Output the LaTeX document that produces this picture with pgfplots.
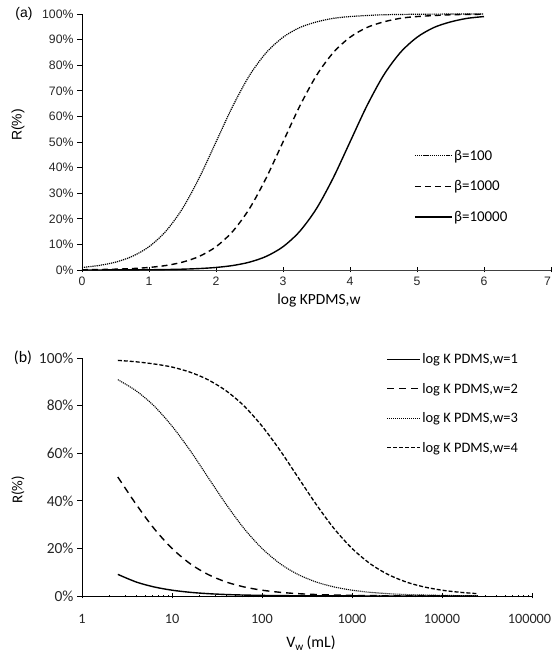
\documentclass[border=0pt]{standalone}
\usepackage{fontspec}
\setmainfont{Carlito}
\newfontfamily\arial{Liberation Sans}
\usepackage{pgfplots}
\pgfplotsset{compat=1.18}
\begin{document}
\begin{tikzpicture}
\path[use as bounding box] (0,0) rectangle (552bp,656bp);
% ---------- panel (a)
\begin{axis}[
  at={(82bp,386bp)}, anchor=south west,
  width=469bp, height=256bp, scale only axis,
  xmin=0, xmax=7, ymin=0, ymax=100,
  axis x line*=bottom, axis y line*=left,
  axis line style={-, line width=0.8pt},
  x axis line style={black!75},
  xtick={0,1,2,3,4,5,6,7},
  xticklabels={0,1,2,3,4,5,6,\llap{7}},
  ytick={0,10,20,30,40,50,60,70,80,90,100},
  yticklabels={0\%,10\%,20\%,30\%,40\%,50\%,60\%,70\%,80\%,90\%,100\%},
  tick style={black, line width=0.7pt},
  xtick align=center, ytick align=outside, major tick length=5bp,
  ticklabel style={font=\arial\fontsize{12.3}{14}\selectfont, text=black!85},
  xticklabel style={yshift=-1bp},
  /pgf/number format/assume math mode=true,
  clip=false,
  legend cell align=left,
  legend style={at={(0.708,0.476)}, anchor=north west, draw=none, fill=none,
    font=\fontsize{15}{17}\selectfont, row sep=16bp, inner sep=0pt,
    nodes={inner sep=1.5pt}},
  legend image code/.code={\draw[#1] (0bp,0bp) -- (37bp,0bp);},
]
\addplot[black, line width=1.2pt, dash pattern=on 1.2pt off 0.9pt, smooth] coordinates {
(0,0.99)(0.25,1.75)(0.5,3.07)(0.75,5.32)(1,9.09)(1.25,15.1)(1.5,24.0)(1.75,36.0)(2,50.0)(2.25,64.0)(2.5,76.0)(2.75,84.9)(3,90.9)(3.25,94.7)(3.5,96.9)(3.75,98.3)(4,99.0)(4.25,99.4)(4.5,99.7)(5,99.9)(5.5,99.97)(6,99.99)};
\addlegendentry{β=100}
\addplot[black, line width=1.4pt, dash pattern=on 6pt off 4pt, smooth] coordinates {
(0,0.1)(0.25,0.18)(0.5,0.32)(0.75,0.56)(1,0.99)(1.25,1.75)(1.5,3.07)(1.75,5.32)(2,9.09)(2.25,15.1)(2.5,24.0)(2.75,36.0)(3,50.0)(3.25,64.0)(3.5,76.0)(3.75,84.9)(4,90.9)(4.25,94.7)(4.5,96.9)(4.75,98.3)(5,99.0)(5.5,99.7)(6,99.9)};
\addlegendentry{β=1000}
\addplot[black, line width=1.4pt, smooth] coordinates {
(0,0.01)(0.5,0.03)(1,0.1)(1.25,0.18)(1.5,0.32)(1.75,0.56)(2,0.99)(2.25,1.75)(2.5,3.07)(2.75,5.32)(3,9.09)(3.25,15.1)(3.5,24.0)(3.75,36.0)(4,50.0)(4.25,64.0)(4.5,76.0)(4.75,84.9)(5,90.9)(5.25,94.7)(5.5,96.9)(5.75,98.3)(6,99.0)};
\addlegendentry{β=10000}
\end{axis}
\node[font=\arial\fontsize{14}{16}\selectfont] at (24bp,642bp) {(a)};
\node[font=\arial\fontsize{14}{16}\selectfont, rotate=90] at (18bp,531bp) {R(\%)};
\node[font=\fontsize{15.5}{18}\selectfont] at (319bp,356bp) {log KPDMS,w};
% ---------- panel (b)
\begin{axis}[
  at={(82bp,60bp)}, anchor=south west,
  width=450bp, height=238bp, scale only axis,
  xmode=log, xmin=1, xmax=100000, ymin=0, ymax=100,
  axis x line*=bottom, axis y line*=left,
  axis line style={-, line width=0.8pt},
  xtick={1,10,100,1000,10000,100000},
  xticklabels={1,10,100,1000,10000,\hspace*{-5pt}100000},
  minor xtick={},
  ytick={0,20,40,60,80,100},
  yticklabels={0\%,20\%,40\%,60\%,80\%,100\%},
  tick style={black, line width=0.7pt},
  xtick align=center, ytick align=outside, major tick length=5bp,
  ticklabel style={text=black!85},
  yticklabel style={font=\fontsize{15.5}{17}\selectfont},
  xticklabel style={font=\fontsize{14.3}{16}\selectfont, yshift=-12bp},
  /pgf/number format/assume math mode=true,
  clip=false,
  legend cell align=left,
  legend style={at={(0.676,1.026)}, anchor=north west, draw=none, fill=none,
    font=\fontsize{14.5}{16}\selectfont, row sep=15bp, inner sep=0pt,
    nodes={inner sep=1.5pt}},
  legend image code/.code={\draw[#1] (0bp,0bp) -- (33bp,0bp);},
]
\addplot[black, line width=1.4pt, smooth] coordinates {
(2.5,9.09)(4,5.88)(6.3,3.82)(10,2.44)(16,1.54)(25,0.99)(40,0.62)(63,0.40)(100,0.25)(160,0.16)(250,0.10)(400,0.06)(630,0.04)(1000,0.025)(1600,0.016)(2500,0.01)(4000,0.006)(6300,0.004)(10000,0.0025)(16000,0.0016)(25000,0.001)};
\addlegendentry{log K PDMS,w=1}
\addplot[black, line width=1.4pt, dash pattern=on 7pt off 5pt, smooth] coordinates {
(2.5,50.0)(4,38.5)(6.3,28.4)(10,20.0)(16,13.5)(25,9.09)(40,5.88)(63,3.82)(100,2.44)(160,1.54)(250,0.99)(400,0.62)(630,0.40)(1000,0.25)(1600,0.16)(2500,0.10)(4000,0.06)(6300,0.04)(10000,0.025)(16000,0.016)(25000,0.01)};
\addlegendentry{log K PDMS,w=2}
\addplot[black, line width=1.1pt, dash pattern=on 1.1pt off 0.9pt, smooth] coordinates {
(2.5,90.9)(4,86.2)(6.3,79.9)(10,71.4)(16,61.0)(25,50.0)(40,38.5)(63,28.4)(100,20.0)(160,13.5)(250,9.09)(400,5.88)(630,3.82)(1000,2.44)(1600,1.54)(2500,0.99)(4000,0.62)(6300,0.40)(10000,0.25)(16000,0.16)(25000,0.10)};
\addlegendentry{log K PDMS,w=3}
\addplot[black, line width=1.3pt, dash pattern=on 4pt off 2pt, smooth] coordinates {
(2.5,99.0)(4,98.4)(6.3,97.5)(10,96.2)(16,94.0)(25,90.9)(40,86.2)(63,79.9)(100,71.4)(160,61.0)(250,50.0)(400,38.5)(630,28.4)(1000,20.0)(1600,13.5)(2500,9.09)(4000,5.88)(6300,3.82)(10000,2.44)(16000,1.54)(25000,0.99)};
\addlegendentry{log K PDMS,w=4}
\end{axis}
\node[font=\fontsize{16}{18}\selectfont] at (23bp,298bp) {(b)};
\node[font=\fontsize{15}{17}\selectfont, rotate=90] at (18bp,166bp) {R(\%)};
\node[font=\fontsize{16}{18}\selectfont] at (311bp,13bp) {V\textsubscript{w}\,(mL)};
\end{tikzpicture}
\end{document}
